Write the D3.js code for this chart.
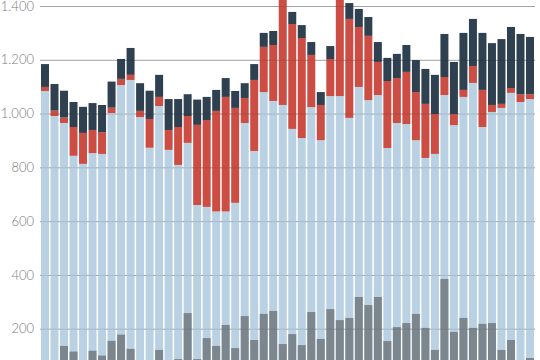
<!DOCTYPE html>
<html>
<head>
<meta charset="utf-8">
<script src="https://cdn.jsdelivr.net/npm/d3@7"></script>
<style>
  html, body { margin: 0; padding: 0; background: #fff; }
  svg { display: block; }
  .tick text { font-family: Lato, "Open Sans", sans-serif; font-weight: 300; }
</style>
</head>
<body>
<div class="svg-container"></div>
<script>
// weeks
const weeks = ["1","2","3","4","5","6","7","8","9","10","11","12","13",
  "14","15","16","17","18","19","20","21","22","23","24","25","26",
  "27","28","29","30","31","32","33","34","35","36","37","38","39",
  "40","41","42","43","44","45","46","47","48","49","50","51","52"];

// stacked series (light blue at bottom, then red, then dark on top)
const lightBlue = [1084, 991, 965, 843, 813, 853, 850, 1002, 1106, 1125, 987, 873, 1028,
  865, 809, 891, 660, 653, 636, 636, 668, 965, 861, 1080, 1047, 1032,
  943, 909, 1024, 901, 1065, 1065, 984, 1099, 1050, 1069, 872, 965, 961,
  901, 835, 850, 1069, 957, 1062, 1114, 950, 1006, 1021, 1077, 1043, 1054];
const red = [15, 20, 20, 107, 115, 86, 81, 20, 23, 19, 23, 107, 34,
  74, 141, 100, 298, 323, 374, 426, 353, 93, 264, 168, 208, 440,
  390, 372, 194, 131, 138, 400, 368, 223, 239, 123, 249, 167, 194,
  179, 201, 148, 67, 41, 26, 63, 138, 26, 15, 18, 29, 18];
const dark = [85, 99, 100, 93, 97, 100, 101, 97, 74, 100, 103, 105, 82,
  115, 104, 81, 94, 86, 78, 70, 63, 55, 59, 52, 52, 50,
  45, 48, 48, 48, 48, 50, 59, 67, 70, 74, 86, 90, 100,
  119, 130, 146, 160, 194, 212, 175, 212, 230, 241, 227, 224, 213];
// overlay series drawn from the baseline in front of the stack
const grey = [60, 55, 136, 115, 65, 118, 100, 155, 178, 125, 60, 65, 121,
  70, 87, 258, 87, 165, 136, 214, 128, 247, 158, 255, 266, 143,
  180, 139, 262, 162, 273, 232, 240, 318, 288, 318, 154, 206, 221,
  255, 203, 121, 385, 188, 240, 203, 218, 221, 121, 158, 60, 91];

const yTicks = [200, 400, 600, 800, 1000, 1200, 1400];

const svgWidth = 540;
const svgHeight = 360;

const svg = d3.select('.svg-container')
  .append('svg')
  .attr('width', svgWidth)
  .attr('height', svgHeight);

const x = d3.scaleBand().domain(weeks).range([41, 534]).paddingInner(0.16).paddingOuter(0);
const y = d3.scaleLinear().domain([0, 1400]).range([382.5, 6]);

const fmt = (d) => d3.format(',')(d).replace(',', '.');

// grid behind the bars
svg.append('g')
  .attr('transform', 'translate(40, 0)')
  .call(d3.axisLeft(y).tickValues(yTicks).tickSize(-495).tickFormat(fmt).tickPadding(6))
  .call((g) => g.select('.domain').remove())
  .call((g) => g.selectAll('.tick line').attr('stroke', '#b4b4b4'))
  .call((g) => g.selectAll('.tick text')
    .attr('fill', '#7a7a7a')
    .attr('font-size', 13));

const rows = weeks.map((w, i) => ({
  week: w,
  lightBlue: lightBlue[i],
  red: red[i],
  dark: dark[i],
}));
const stack = d3.stack().keys(['lightBlue', 'red', 'dark'])(rows);
const colors = { lightBlue: '#b5cfe1', red: '#c8433a', dark: '#243747' };

svg.append('g')
  .selectAll('g')
  .data(stack)
  .join('g')
  .attr('fill', (s) => colors[s.key])
  .attr('fill-opacity', 0.95)
  .selectAll('rect')
  .data((s) => s)
  .join('rect')
  .attr('x', (d) => x(d.data.week))
  .attr('width', x.bandwidth())
  .attr('y', (d) => y(d[1]))
  .attr('height', (d) => y(d[0]) - y(d[1]));

svg.append('g')
  .attr('fill', '#7c868e')
  .selectAll('rect')
  .data(grey)
  .join('rect')
  .attr('x', (d, i) => x(weeks[i]))
  .attr('width', x.bandwidth())
  .attr('y', (d) => y(d))
  .attr('height', (d) => y(0) - y(d));

// faint grid over the bars
svg.append('g')
  .selectAll('line')
  .data(yTicks)
  .join('line')
  .attr('x1', 40)
  .attr('x2', 535)
  .attr('y1', (d) => y(d) + 0.5)
  .attr('y2', (d) => y(d) + 0.5)
  .attr('stroke', '#333')
  .attr('stroke-opacity', 0.12);
</script>
</body>
</html>
